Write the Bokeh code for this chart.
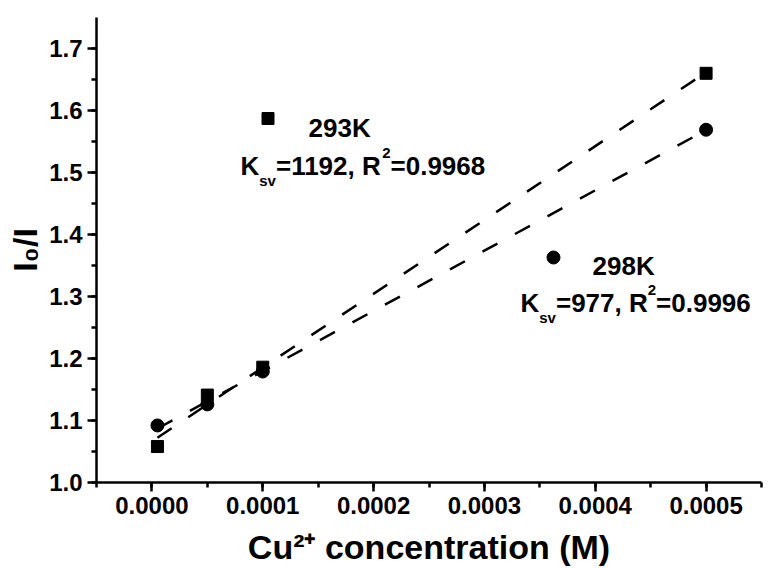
import numpy as np
from bokeh.plotting import figure
from bokeh.models import Range1d, SingleIntervalTicker, NumeralTickFormatter, Label
from bokeh.embed import file_html
from bokeh.resources import INLINE

# ---- data ----
conc = [0.000005, 0.00005, 0.0001, 0.0005]          # Cu2+ concentration (M)
ratio_293 = [1.058, 1.141, 1.186, 1.660]            # I0/I at 293K
ratio_298 = [1.092, 1.126, 1.179, 1.569]            # I0/I at 298K
temps = ["293K", "298K"]
ksv = ["1192", "977"]
r2 = ["0.9968", "0.9996"]
x_title = "Cu²⁺ concentration (M)"
y_title = "I₀/I"

# ---- layout ----
W, H = 771, 568
L, R, T, B = 96, 761, 17, 482
X0, X1 = -0.00005, 0.00055
Y0, Y1 = 1.0, 1.75
FONT = "Liberation Sans"


def px2x(px):
    return X0 + (px - L) / (R - L) * (X1 - X0)


def px2y(py):
    return Y0 + (B - py) / (B - T) * (Y1 - Y0)


ADV = {'0': .556, '1': .556, '2': .556, '3': .556, '4': .556, '5': .556, '6': .556,
       '7': .556, '8': .556, '9': .556, '.': .278, ',': .278, ' ': .278, '=': .584,
       '+': .584, '/': .278, '(': .333, ')': .333, 'K': .722, 'R': .722, 'C': .722,
       'M': .833, 'I': .278, 's': .556, 'v': .556, 'u': .611, 'c': .556, 'o': .611,
       'n': .611, 'e': .556, 't': .333, 'r': .389, 'a': .556, 'i': .278}


def tw(text, size):
    return sum(ADV.get(ch, .6) for ch in text) * size


p = figure(width=W, height=H, x_range=Range1d(X0, X1), y_range=Range1d(Y0, Y1),
           output_backend="svg", toolbar_location=None,
           min_border_left=L, min_border_right=W - R, min_border_top=T, min_border_bottom=H - B)
p.outline_line_color = None
p.grid.visible = False
p.background_fill_color = "white"
p.border_fill_color = "white"

p.xaxis.ticker = SingleIntervalTicker(interval=0.0001, num_minor_ticks=2)
p.yaxis.ticker = SingleIntervalTicker(interval=0.1, num_minor_ticks=2)
p.xaxis.formatter = NumeralTickFormatter(format="0.0000")
p.yaxis.formatter = NumeralTickFormatter(format="0.0")
for ax in (p.xaxis[0], p.yaxis[0]):
    ax.axis_line_width = 2.5
    ax.axis_line_color = "black"
    ax.major_tick_line_width = 2.5
    ax.minor_tick_line_width = 2.5
    ax.major_tick_line_color = "black"
    ax.minor_tick_line_color = "black"
    ax.major_tick_out = 9
    ax.major_tick_in = 0
    ax.minor_tick_out = 5
    ax.minor_tick_in = 0
    ax.major_label_text_font = FONT
    ax.major_label_text_font_size = "24px"
    ax.major_label_text_font_style = "bold"
    ax.major_label_text_color = "black"
    ax.major_label_standoff = 5
    ax.axis_label_text_font = FONT
    ax.axis_label_text_font_style = "bold"
    ax.axis_label_text_color = "black"

p.xaxis.axis_label = x_title
p.xaxis.axis_label_text_font_size = "34px"
p.xaxis.axis_label_standoff = 11
p.yaxis.axis_label = y_title
p.yaxis.axis_label_text_font_size = "34px"
p.yaxis.axis_label_standoff = 2

# ---- fitted lines (linear regression of the data) ----
xs = np.array([min(conc), max(conc)])
for ys in (ratio_293, ratio_298):
    k, b = np.polyfit(conc, ys, 1)
    p.line(xs, k * xs + b, line_dash="17 20", line_width=2.5, line_color="black")

p.scatter(conc, ratio_293, marker="square", size=12, color="black")
p.scatter(conc, ratio_298, marker="circle", size=13, color="black")


def put(text, px, py, size, angle=0.0):
    p.add_layout(Label(x=px2x(px), y=px2y(py), text=text, text_font=FONT,
                       text_font_size=f"{size}px", text_font_style="bold",
                       text_color="black", text_baseline="alphabetic",
                       text_align="left", angle=angle))


def rich(parts, px, py):
    # parts: (text, size, baseline offset in px)
    x = px
    for text, size, dy in parts:
        put(text, x, py + dy, size)
        x += tw(text, size)


MAIN, SMALL = 26, 15

# ---- in-plot annotations ----
ann = [
    dict(marker="square", mx=267.5, my=118, msize=12, tx=308, ty=127, lx=240, ly=165),
    dict(marker="circle", mx=553, my=257, msize=13, tx=592, ty=265, lx=520, ly=302),
]
for i, a in enumerate(ann):
    p.scatter([px2x(a["mx"])], [px2y(a["my"])], marker=a["marker"], size=a["msize"], color="black")
    put(temps[i], a["tx"], a["ty"], MAIN)
    rich([("K", MAIN, 0), ("sv", SMALL, 15), ("=" + ksv[i] + ", R", MAIN, 0),
          ("2", SMALL, -13), ("=" + r2[i], MAIN, 0)], a["lx"], a["ly"])

open("out.html", "w").write(file_html(p, INLINE))
